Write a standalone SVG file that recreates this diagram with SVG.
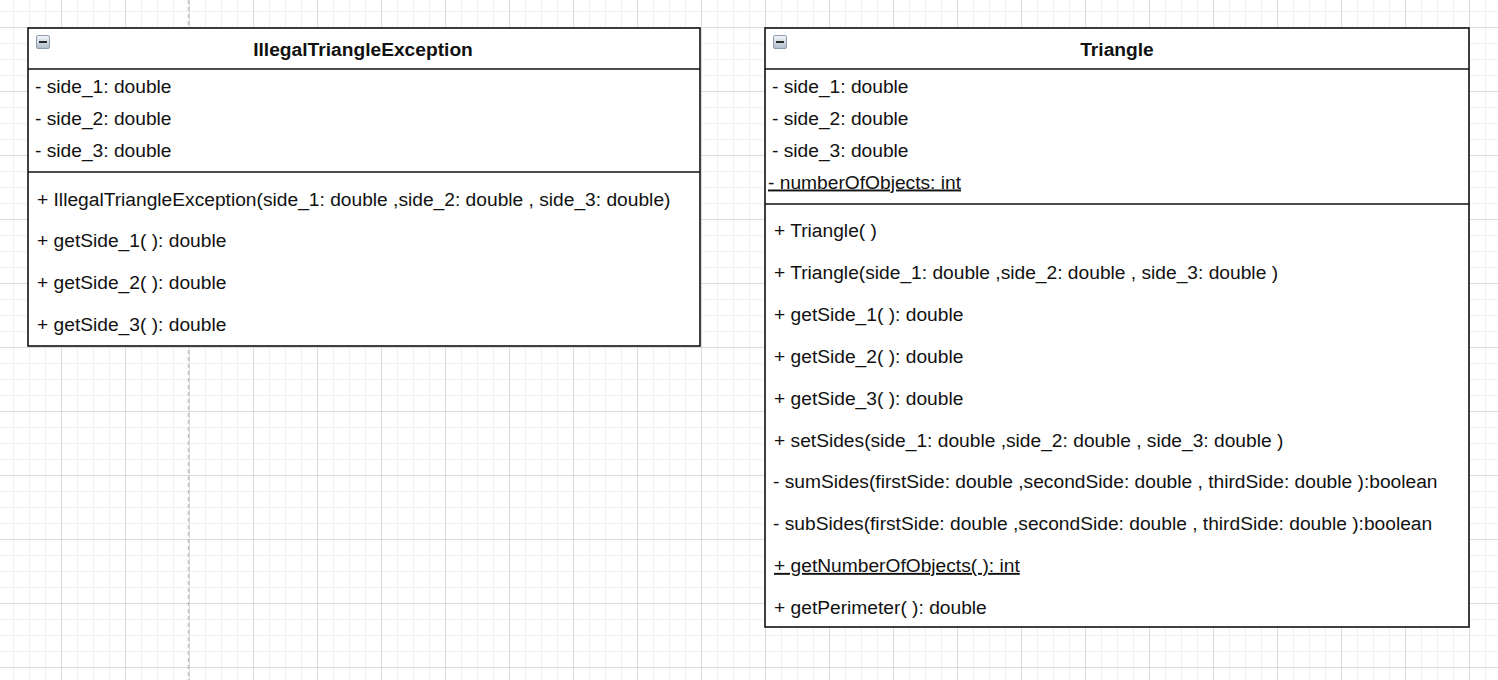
<svg xmlns="http://www.w3.org/2000/svg" width="1498" height="680" viewBox="0 0 1498 680">
<defs>
<pattern id="minor" patternUnits="userSpaceOnUse" x="13" y="11" width="16" height="16">
<rect x="0" y="0" width="1" height="16" fill="#f1f1f1"/>
<rect x="0" y="0" width="16" height="1" fill="#f1f1f1"/>
</pattern>
<pattern id="major" patternUnits="userSpaceOnUse" x="61" y="27" width="64" height="64">
<rect x="0" y="0" width="1" height="64" fill="#dadada"/>
<rect x="0" y="0" width="64" height="1" fill="#dadada"/>
</pattern>
<linearGradient id="ig" x1="0" y1="0" x2="0" y2="1">
<stop offset="0" stop-color="#f4f7fa"/>
<stop offset="1" stop-color="#aebccb"/>
</linearGradient>
<g id="collapse">
<rect x="0.5" y="0.5" width="13" height="13" rx="1.5" fill="url(#ig)" stroke="#8e9cab" stroke-width="1"/>
<rect x="3" y="6" width="8" height="2" fill="#2a2a2a"/>
</g>
</defs>
<style>
.box{fill:#fff;stroke:#111;stroke-width:1.6}
.sep{stroke:#111;stroke-width:1.6}
text{font-family:"Liberation Sans",Arial,sans-serif;font-size:19.2px;fill:#111}
.title{font-weight:bold;text-anchor:middle}
.u{text-decoration:underline}
</style>
<rect width="1498" height="680" fill="#fff"/>
<rect width="1498" height="680" fill="url(#minor)"/>
<rect width="1498" height="680" fill="url(#major)"/>
<line x1="188.5" y1="0" x2="188.5" y2="680" stroke="#c4c4c4" stroke-width="1.5" stroke-dasharray="4 3"/>

<g id="connectors"></g>

<g id="IllegalTriangleException">
<rect class="box" x="28" y="28" width="672" height="318"/>
<line class="sep" x1="28" y1="69" x2="700" y2="69"/>
<line class="sep" x1="28" y1="172" x2="700" y2="172"/>
<use href="#collapse" x="36" y="35"/>
<text class="title" x="363" y="56">IllegalTriangleException</text>
<text x="35" y="93">- side_1: double</text>
<text x="35" y="125">- side_2: double</text>
<text x="35" y="157">- side_3: double</text>
<text x="37" y="205.5">+ IllegalTriangleException(side_1: double ,side_2: double , side_3: double)</text>
<text x="37" y="247.3">+ getSide_1( ): double</text>
<text x="37" y="289.1">+ getSide_2( ): double</text>
<text x="37" y="330.9">+ getSide_3( ): double</text>
</g>

<g id="Triangle">
<rect class="box" x="765" y="28" width="704" height="599"/>
<line class="sep" x1="765" y1="69" x2="1469" y2="69"/>
<line class="sep" x1="765" y1="204" x2="1469" y2="204"/>
<use href="#collapse" x="773" y="35"/>
<text class="title" x="1117" y="56">Triangle</text>
<text x="772" y="93">- side_1: double</text>
<text x="772" y="125">- side_2: double</text>
<text x="772" y="157">- side_3: double</text>
<text class="u" x="768" y="188.5">- numberOfObjects: int</text>
<text x="774" y="237">+ Triangle( )</text>
<text x="774" y="279">+ Triangle(side_1: double ,side_2: double , side_3: double )</text>
<text x="774" y="321">+ getSide_1( ): double</text>
<text x="774" y="363">+ getSide_2( ): double</text>
<text x="774" y="405">+ getSide_3( ): double</text>
<text x="774" y="446.5">+ setSides(side_1: double ,side_2: double , side_3: double )</text>
<text x="773" y="488.3">- sumSides(firstSide: double ,secondSide: double , thirdSide: double ):boolean</text>
<text x="773" y="530.1">- subSides(firstSide: double ,secondSide: double , thirdSide: double ):boolean</text>
<text class="u" x="774" y="571.9">+ getNumberOfObjects( ): int</text>
<text x="774" y="613.7">+ getPerimeter( ): double</text>
</g>
</svg>
